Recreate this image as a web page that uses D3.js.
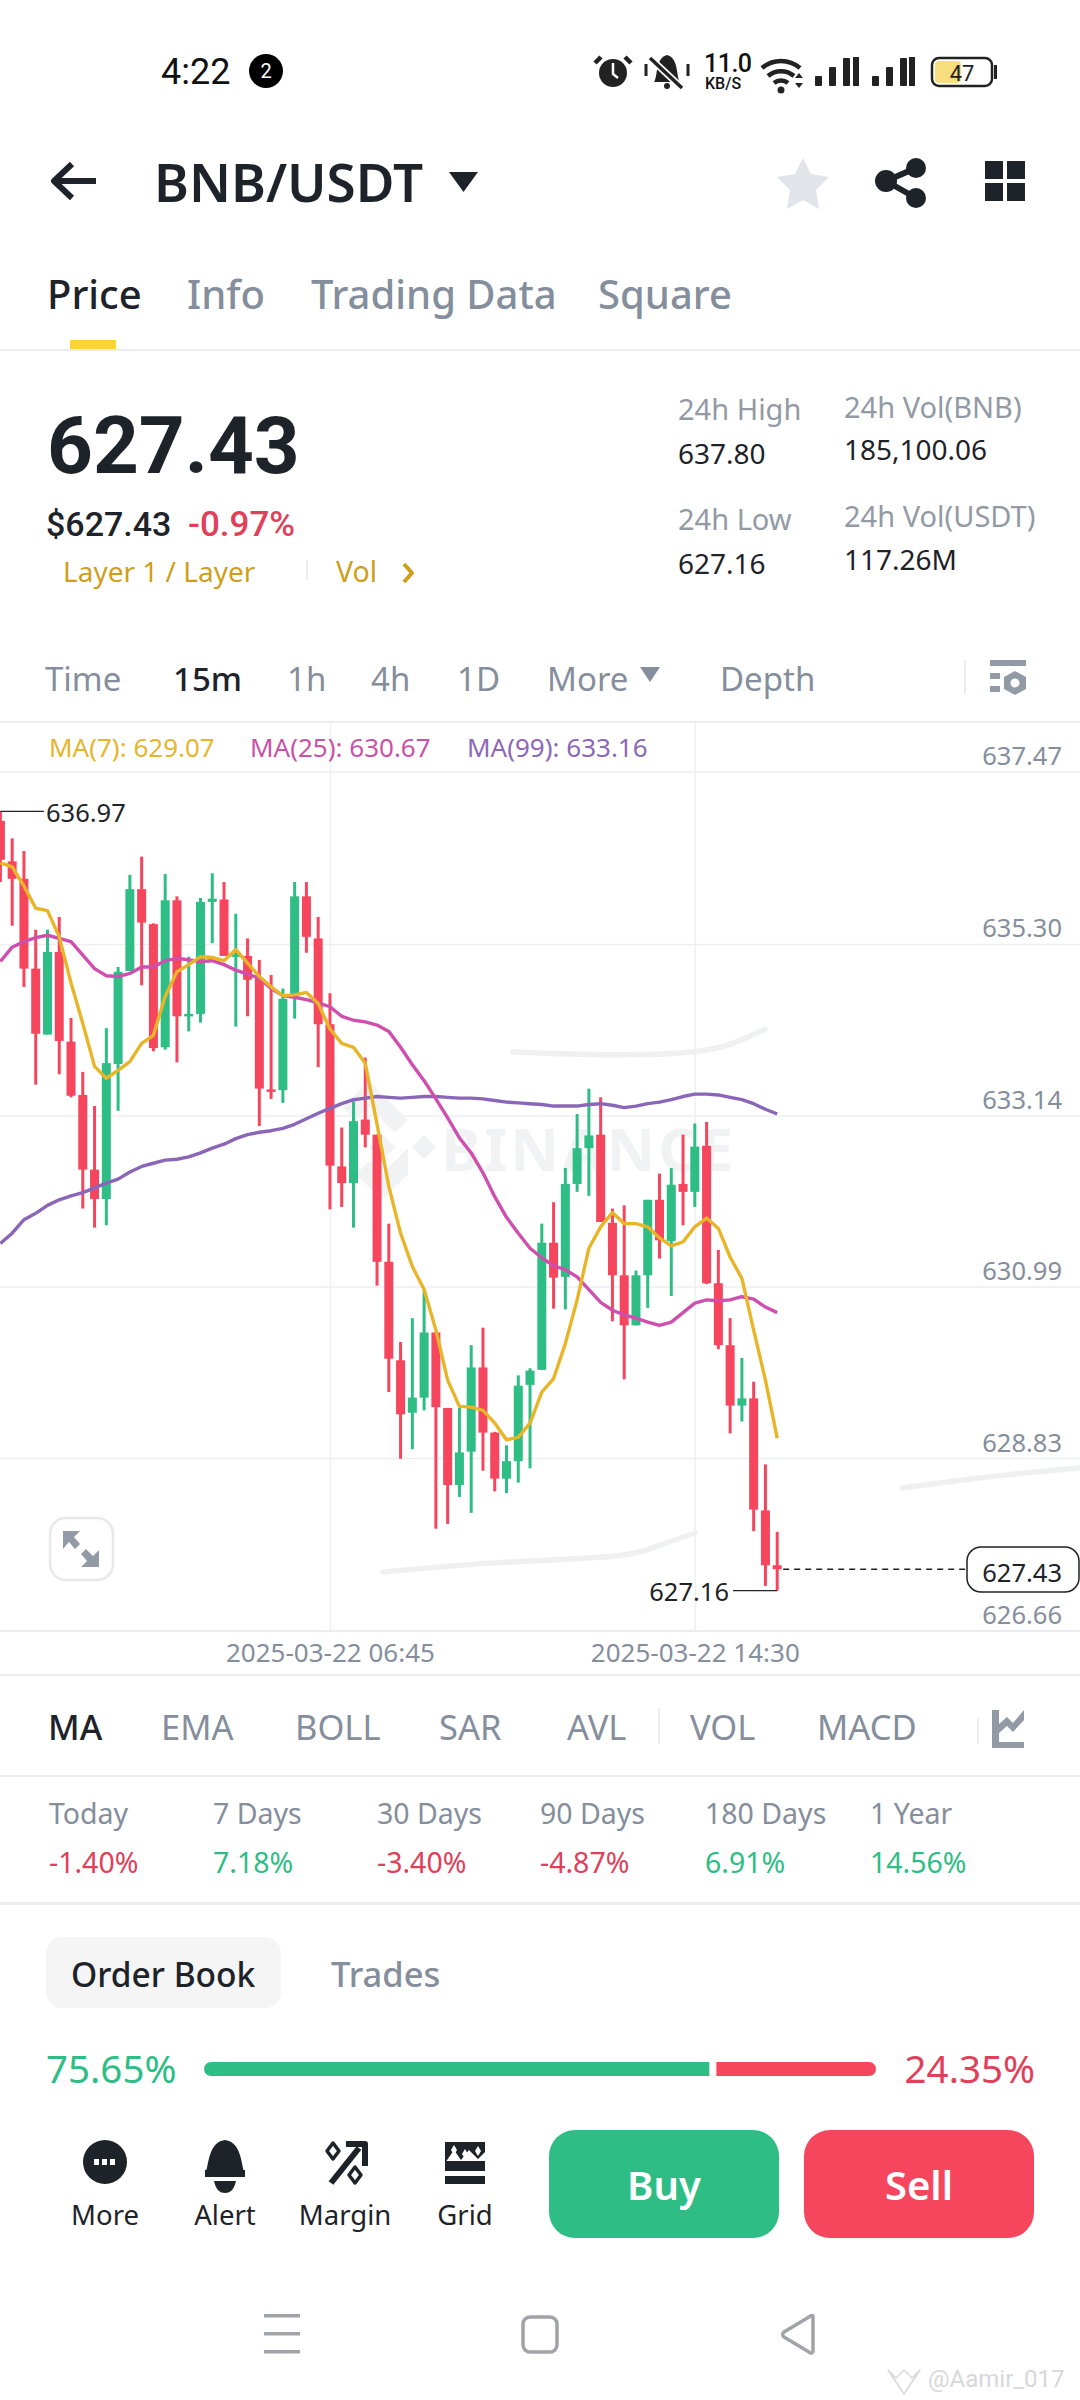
<!DOCTYPE html>
<html><head><meta charset="utf-8">
<script src="https://cdn.jsdelivr.net/npm/d3@7/dist/d3.min.js"></script>
<style>html,body{margin:0;padding:0;background:#fff;overflow:hidden}svg{display:block}</style>
</head><body><svg id="c" width="1080" height="2400" viewBox="0 0 1080 2400"></svg>
<script>
const opens=[636.85,636.34,636.12,634.99,634.16,635.20,634.07,633.40,632.46,632.09,633.79,634.96,635.99,635.55,634.00,635.85,634.39,634.42,635.83,635.86,635.15,635.15,634.87,633.47,633.46,634.66,635.90,635.37,634.29,632.50,632.29,633.09,632.90,631.30,630.06,629.40,629.59,630.41,629.46,628.49,628.91,629.97,629.15,628.57,628.79,629.75,629.94,631.54,631.11,632.28,632.73,632.90,631.79,631.13,630.50,631.13,632.08,631.56,632.28,632.18,632.76,631.03,630.25,629.49,629.58,628.17,627.48];
const highs=[636.97,636.63,636.47,635.48,635.48,635.64,634.37,633.69,633.26,634.24,635.01,636.17,636.40,635.56,636.18,635.90,635.14,635.88,636.19,636.08,635.68,635.37,635.10,634.91,634.74,636.08,636.08,635.64,634.68,632.99,633.32,633.87,632.90,631.78,630.29,630.59,630.95,630.41,629.46,629.46,630.25,630.47,629.16,628.99,629.87,629.96,631.78,632.05,632.48,633.16,633.48,633.37,631.97,632.01,631.19,632.08,632.41,632.48,632.90,633.04,633.06,631.45,630.59,630.09,629.79,628.75,627.90];
const lows=[636.08,635.53,634.76,633.53,634.16,633.66,633.37,631.97,631.73,631.76,633.20,634.96,634.78,633.95,633.97,633.81,634.20,634.31,635.31,635.15,634.26,634.39,633.01,633.35,633.30,634.36,635.19,633.75,631.96,631.99,631.73,632.74,631.00,629.66,628.82,628.94,629.43,627.94,628.00,628.34,628.14,628.67,628.41,628.39,628.52,628.70,629.94,630.71,630.70,632.18,632.13,631.80,630.55,629.82,630.50,630.72,631.34,630.87,631.76,631.99,631.02,630.20,629.14,629.29,627.91,627.22,627.16];
const closes=[636.36,636.12,634.99,634.17,635.20,634.08,633.39,632.46,632.09,633.80,634.95,635.99,635.57,633.99,635.85,634.39,634.42,635.83,635.87,635.15,635.17,634.85,633.48,633.44,634.61,635.90,635.39,634.29,632.51,632.29,633.07,632.90,631.30,630.08,629.38,629.59,630.41,629.47,628.49,628.90,629.97,629.15,628.57,628.79,629.74,629.93,631.54,631.10,632.28,632.73,632.89,631.80,631.13,630.50,631.13,632.08,631.57,632.27,632.18,632.75,631.03,630.25,629.49,629.58,628.18,627.48,627.43];
const ma7=[636.32,636.27,636.03,635.75,635.72,635.39,634.81,634.30,633.76,633.61,633.71,633.82,634.05,634.15,634.64,634.95,635.04,635.14,635.13,635.09,635.23,635.06,634.89,634.76,634.65,634.66,634.69,634.55,634.23,634.05,634.00,633.80,633.03,632.25,631.66,631.24,630.95,630.44,629.81,629.48,629.47,629.43,629.27,629.06,629.09,629.27,629.66,629.83,630.27,630.82,631.47,631.74,631.92,631.78,631.78,631.74,631.60,631.50,631.55,631.74,631.85,631.72,631.36,631.09,630.44,629.81,629.08];
const ma25=[635.08,635.26,635.33,635.38,635.41,635.37,635.33,635.16,634.99,634.90,634.89,634.93,635.01,635.01,635.09,635.12,635.10,635.08,635.09,635.04,634.97,634.92,634.87,634.74,634.65,634.63,634.60,634.56,634.51,634.39,634.34,634.32,634.28,634.20,634.00,633.78,633.58,633.35,633.11,632.86,632.67,632.42,632.12,631.86,631.66,631.47,631.35,631.25,631.20,631.11,630.95,630.79,630.69,630.63,630.59,630.54,630.50,630.54,630.66,630.78,630.82,630.81,630.82,630.86,630.83,630.73,630.66];
const ma99=[631.53,631.66,631.83,631.91,632.01,632.08,632.13,632.17,632.23,632.29,632.34,632.43,632.50,632.54,632.58,632.59,632.62,632.67,632.73,632.78,632.85,632.90,632.93,632.95,632.98,633.03,633.10,633.17,633.23,633.29,633.34,633.36,633.38,633.37,633.36,633.37,633.38,633.38,633.37,633.36,633.36,633.35,633.33,633.31,633.30,633.29,633.28,633.26,633.26,633.26,633.28,633.29,633.27,633.24,633.26,633.29,633.31,633.34,633.38,633.41,633.41,633.40,633.37,633.34,633.29,633.22,633.16];
const priceTicks=[637.47,635.30,633.14,630.99,628.83,626.66];
const timeTicks=["2025-03-22T06:45:00Z","2025-03-22T14:30:00Z"];
const firstCandle="2025-03-21T23:45:00Z";
const lastPrice=627.43;
const maLegend=[["MA(7): 629.07",49,"#e6b52e"],["MA(25): 630.67",250,"#c952a8"],["MA(99): 633.16",467,"#8b68b8"]];
const tabs=[["Price",47,"#1e2329"],["Info",187,"#848e9c"],["Trading Data",311,"#848e9c"],["Square",598,"#848e9c"]];
const intervals=[["Time",45,"#848e9c",400],["15m",173,"#1e2329",500],["1h",287,"#848e9c",400],["4h",371,"#848e9c",400],["1D",457,"#848e9c",400],["More",547,"#848e9c",400],["Depth",720,"#848e9c",400]];
const indicators=[["MA",48,"#1e2329",500],["EMA",161,"#848e9c",400],["BOLL",295,"#848e9c",400],["SAR",439,"#848e9c",400],["AVL",567,"#848e9c",400],["VOL",690,"#848e9c",400],["MACD",817,"#848e9c",400]];
const perfLabels=["Today","7 Days","30 Days","90 Days","180 Days","1 Year"];
const perfValues=[-1.40,7.18,-3.40,-4.87,6.91,14.56];
const perfX=[49,213,377,540,705,870];
const bookShare=[75.65,24.35];
const bottomItems=[["More",105],["Alert",225],["Margin",345],["Grid",465]];

const DARK="#1e2329",GREY="#848e9c",RED="#f6465d",GREEN="#2ebd85",TXTRED="#e0405a",LINE="#eaecef";
const svg=d3.select("#c");
const F="'Noto Sans',sans-serif",R="Roboto,sans-serif";
function T(s,x,y,size,fill,o={}){return svg.append("text").attr("x",x).attr("y",y).attr("font-size",size).attr("fill",fill)
  .attr("font-family",o.f||F).attr("font-weight",o.w||400).attr("text-anchor",o.a||"start").attr("letter-spacing",o.ls||0).text(s);}
function H(y,h=2,c=LINE){svg.append("rect").attr("x",0).attr("y",y).attr("width",1080).attr("height",h).attr("fill",c);}
function P(d,fill,o={}){return svg.append("path").attr("d",d).attr("fill",fill).attr("stroke",o.s||"none").attr("stroke-width",o.sw||0).attr("stroke-linecap",o.c||"butt").attr("stroke-linejoin","round");}
function C(x,y,r,fill){return svg.append("circle").attr("cx",x).attr("cy",y).attr("r",r).attr("fill",fill);}
function Rc(x,y,w,h,fill,rx=0){return svg.append("rect").attr("x",x).attr("y",y).attr("width",w).attr("height",h).attr("rx",rx).attr("fill",fill);}

/* status bar */
T("4:22",161,84,36,"#111",{f:R});
C(266,71,17,"#000");T("2",266,78,20,"#fff",{a:"middle",f:R});
C(613,73,14,"#222");P("M601 57l-6 6M625 57l6 6","none",{s:"#222",sw:4.5});P("M613 63v11l5 4","none",{s:"#fff",sw:2.5});
P("M654 82c4-5 1-24 13-27c12 3 9 22 13 27z","#222");P("M650 58l32 30","none",{s:"#fff",sw:7});P("M650 58l32 30","none",{s:"#222",sw:3.5});P("M646 64v12M688 64v12","none",{s:"#222",sw:3});C(667,86,3,"#222");
T("11.0",704,72,25,"#111",{f:R,w:500,ls:-.5});T("KB/S",705,89,16,"#111",{f:R,w:500});
P("M762 68a29 29 0 0 1 38 0M768 76a20 20 0 0 1 26 0M774 83a11 11 0 0 1 14 0","none",{s:"#222",sw:4.5});C(781,90,3.5,"#222");P("M795 78l4-5l4 5zM795 83l4 5l4-5z","#222");
[815,829,843].forEach((x,i)=>Rc(x,76-i*9,7,10+i*9,"#222",1));Rc(853,57,6,29,"#222");
[872,886,900].forEach((x,i)=>Rc(x,76-i*9,7,10+i*9,"#222",1));Rc(909,57,6,29,"#222");
Rc(932,58,60,28,"#fff",7).attr("stroke","#222").attr("stroke-width",2.5);
Rc(935,61,26,22,"#f8dd7e",4);Rc(994,65,3,14,"#222");
T("47",962,81,22,"#222",{a:"middle",f:R});

/* header */
P("M96 181H56M72 164L54 181L72 198","none",{s:DARK,sw:6});
T("BNB/USDT",154,202,53,DARK,{w:600});
P("M449 172h29l-14.5 20z",DARK);
P("M803 158l8 16l18 3l-13 13l3 19l-16-9l-16 9l3-19l-13-13l18-3z","#e1e4e8");
P("M916 168L886 181L916 198","none",{s:DARK,sw:6});C(916,168,10,DARK);C(886,181,11,DARK);C(916,198,10,DARK);
[[985,161],[1007,161],[985,183],[1007,183]].forEach(p=>Rc(p[0],p[1],18,18,DARK));

/* tabs */
tabs.forEach(t=>T(t[0],t[1],309,40,t[2],{w:500}));
Rc(70,340,46,9,"#fcd535");
H(349,2);

/* price block */
T("627.43",47,473,80,DARK,{f:R,w:700});
T("$627.43",46,536,34,DARK,{w:500,f:R});
T("-0.97%",188,536,35,TXTRED,{w:500,f:R});
T("Layer 1 / Layer",63,582,28,"#cf9f1a");
Rc(306,560,2,20,"#eaecef");
T("Vol",336,582,28.5,"#cf9f1a");
P("M404 564l8 9l-8 9","none",{s:"#cf9f1a",sw:4});
[["24h High",678,420],["24h Low",678,530],["24h Vol(BNB)",844,418],["24h Vol(USDT)",844,527]].forEach(d=>T(d[0],d[1],d[2],29,"#929aa5"));
[["637.80",678,464],["627.16",678,574],["185,100.06",844,460],["117.26M",844,570]].forEach(d=>T(d[0],d[1],d[2],28,DARK));

/* intervals */
intervals.forEach(t=>T(t[0],t[1],691,33,t[2],{w:t[3]}));
P("M640 667h20l-10 15z","#848e9c");
Rc(964,660,2,34,"#eaecef");
Rc(990,660,36,6,"#929aa5");Rc(990,673,10,6,"#929aa5");Rc(990,686,10,6,"#929aa5");
P("M1015 671l11 6v12l-11 6l-11-6v-12z","#929aa5");C(1015,683,4.5,"#fff");
H(721,2);

/* chart */
const n=closes.length,start=new Date(firstCandle);
const times=closes.map((_,i)=>d3.utcMinute.offset(start,15*i));
const x=d3.scaleUtc().domain([times[0],times[n-1]]).range([0.4,777.2]);
const y=d3.scaleLinear().domain([priceTicks[0],priceTicks[priceTicks.length-1]]).range([771.6,1630.4]);

svg.append("g").attr("transform","translate(0,1630)")
 .call(d3.axisBottom(x).tickValues(timeTicks.map(d=>new Date(d))).tickSize(-908).tickFormat(d3.utcFormat("%Y-%m-%d %H:%M")).tickPadding(0))
 .call(g=>{g.select(".domain").remove();g.selectAll("line").attr("stroke","#eef0f2").attr("stroke-width",1.5);
   g.selectAll("text").attr("y",32).attr("dy",0).attr("font-size",26).attr("font-family",F).attr("fill",GREY);});
svg.append("g").attr("transform","translate(1080,0)")
 .call(d3.axisRight(y).tickValues(priceTicks).tickSize(-1080).tickFormat(d3.format(".2f")).tickPadding(0))
 .call(g=>{g.select(".domain").remove();g.selectAll("line").attr("stroke","#eceef0").attr("stroke-width",1.5);
   g.selectAll("text").attr("x",-18).attr("dy",-7).attr("text-anchor","end").attr("font-size",25.5).attr("font-family",F).attr("fill",GREY);});
H(1630,2);H(1674,2);

/* faint watermark + erasure strokes */
const wm=svg.append("g").attr("fill","#f1f2f4");
wm.append("text").attr("x",441).attr("y",1171).attr("font-size",60).attr("font-weight",700).attr("font-family",F).attr("letter-spacing",3).text("BINANCE");
wm.append("path").attr("d","M387 1147l-13 13l-13-13l13-13zM400 1120l-13 13l-26-26l-13 13l-13-13l26-26zM400 1174l-26 26l-26-26l13-13l13 13l26-26zM428 1147l-12 12l-12-12l12-12z").attr("transform","translate(8,0)");
const eraser=d3.line().curve(d3.curveBasis);
[[[513,1052],[627,1056],[693,1053],[730,1046],[765,1029]],[[383,1572],[505,1561],[627,1558],[660,1545],[695,1533]],[[902,1488],[990,1476],[1080,1468]]]
 .forEach(p=>svg.append("path").attr("d",eraser(p)).attr("fill","none").attr("stroke","#eff0f1").attr("stroke-width",5.5).attr("stroke-linecap","round"));

/* candles */
const cg=svg.append("g");
const col=i=>closes[i]>=opens[i]?GREEN:RED;
cg.selectAll(".w").data(d3.range(n)).join("line").attr("x1",i=>x(times[i])).attr("x2",i=>x(times[i]))
  .attr("y1",i=>y(highs[i])).attr("y2",i=>y(lows[i])).attr("stroke",col).attr("stroke-width",3);
cg.selectAll(".b").data(d3.range(n)).join("rect").attr("x",i=>x(times[i])-4.5).attr("width",9)
  .attr("y",i=>y(Math.max(opens[i],closes[i]))).attr("height",i=>Math.max(2.5,Math.abs(y(opens[i])-y(closes[i])))).attr("fill",col);

/* moving averages */
const line=d3.line().x((_,i)=>x(times[i])).y(d=>y(d));
[[ma99,"#8a66b8"],[ma25,"#cf4fae"],[ma7,"#e8b528"]].forEach(s=>svg.append("path").attr("d",line(s[0])).attr("fill","none")
  .attr("stroke",s[1]).attr("stroke-width",3.4).attr("stroke-linejoin","round"));

/* legend */
maLegend.forEach(m=>T(m[0],m[1],757,26,m[2]));

/* high / low / last */
const hi=d3.max(highs),lo=d3.min(lows);
const xHi=x(times[highs.indexOf(hi)]),xLo=x(times[lows.indexOf(lo)]);
svg.append("line").attr("x1",xHi).attr("x2",44).attr("y1",y(hi)).attr("y2",y(hi)).attr("stroke",DARK).attr("stroke-width",1.3);
T(d3.format(".2f")(hi),46,822,25.5,DARK);
svg.append("line").attr("x1",733).attr("x2",xLo).attr("y1",y(lo)).attr("y2",y(lo)).attr("stroke",DARK).attr("stroke-width",1.3);
T(d3.format(".2f")(lo),729,1601,25.5,DARK,{a:"end"});
svg.append("line").attr("x1",x(times[n-1])+6).attr("x2",967).attr("y1",y(lastPrice)).attr("y2",y(lastPrice)).attr("stroke",DARK).attr("stroke-width",1.3).attr("stroke-dasharray","6 5");
Rc(967,1547,112,45,"#fff",14).attr("stroke",DARK).attr("stroke-width",1.5);
T(d3.format(".2f")(lastPrice),1062,1582,25.5,DARK,{a:"end"});

/* expand button */
Rc(50,1518,63,62,"#fff",16).attr("stroke","#e6e8ea").attr("stroke-width",2.5);
P("M63 1531h17l-6 6l6 7l-5 5l-6-7l-6 7z","#929aa5");
P("M99 1567h-18l6-6l-6-7l5-5l7 7l6-6z","#929aa5");

/* indicators */
indicators.forEach(t=>T(t[0],t[1],1740,34.5,t[2],{w:t[3]}));
Rc(658,1708,2,36,"#eaecef");Rc(977,1718,2,26,"#eaecef");
P("M992 1710h7v14l8-7l6 6l11-13v10l-11 12l-6-6l-8 7v9h25v6h-32z","#929aa5");
H(1775,2);

/* performance */
perfLabels.forEach((t,i)=>{T(t,perfX[i],1824,28.5,GREY);
  const v=perfValues[i];T(v.toFixed(2)+"%",perfX[i],1873,28.5,v<0?TXTRED:"#2ebd85");});
H(1902,3);

/* order book */
Rc(46,1937,235,71,"#f5f5f5",16);
T("Order Book",71,1987,33.5,DARK,{w:500});T("Trades",331,1987,34.5,GREY,{w:500});
T(bookShare[0].toFixed(2)+"%",46,2083,38.5,"#2ebd85");
T(bookShare[1].toFixed(2)+"%",1035,2083,38.5,TXTRED,{a:"end"});
const bx=d3.scaleLinear().domain([0,100]).range([204,876]);
svg.append("path").attr("d",`M${bx(bookShare[0])-3} 2062H211a7 7 0 0 0 0 14H${bx(bookShare[0])-3}z`).attr("fill",GREEN);
svg.append("path").attr("d",`M${bx(bookShare[0])+4} 2062H869a7 7 0 0 1 0 14H${bx(bookShare[0])+4}z`).attr("fill",RED);

/* bottom bar */
bottomItems.forEach(t=>T(t[0],t[1],2225,27.5,DARK,{a:"middle"}));
C(105,2162,22,DARK);[94,102,110].forEach(a=>Rc(a,2159,5,6,"#fff"));
P("M205 2173c4-4 2-31 20-33c18 2 16 29 20 33z",DARK);Rc(205,2170,40,7,DARK);
P("M214 2181h22c-2 9-6 12-11 12s-9-3-11-12z",DARK);
P("M331 2183L359 2148M346 2144h19v22","none",{s:DARK,sw:6});
P("M333 2143l6 8l-6 8l-6-8zM355 2167l6 8l-6 8l-6-8z","none",{s:DARK,sw:3.5});
Rc(445,2142,40,29,DARK);
P("M445 2163l9-13l7 10l8-10l9 9l7-7v19h-40z","#fff");
P("M454 2145l3 5l-3 5l-3-5zM465 2149l3 5l-3 5l-3-5zM478 2146l3 5l-3 5l-3-5z","#fff");
Rc(445,2161,40,10,DARK);Rc(445,2176,40,8,DARK);
[["Buy",549,GREEN],["Sell",804,RED]].forEach(b=>{Rc(b[1],2130,230,108,b[2],26);
  T(b[0],b[1]+115,2200,40,"#fff",{a:"middle",w:600});});

/* nav */
[2316,2334,2352].forEach(v=>Rc(264,v-2,36,3.5,"#a0a3a8"));
Rc(523,2317,34,35,"none",7).attr("stroke","#a0a3a8").attr("stroke-width",3.5);
P("M813 2317v34c0 2-2 3-4 1l-25-15c-2-2-2-3 0-5l25-15c2-2 4-2 4 0z","none",{s:"#a0a3a8",sw:3.5});
T("@Aamir_017",928,2387,24,"#d6d8da",{f:R});
P("M896 2378l8-8l8 8l8-8l-16 24l-16-24z","none",{s:"#d6d8da",sw:1.5});
</script></body></html>
